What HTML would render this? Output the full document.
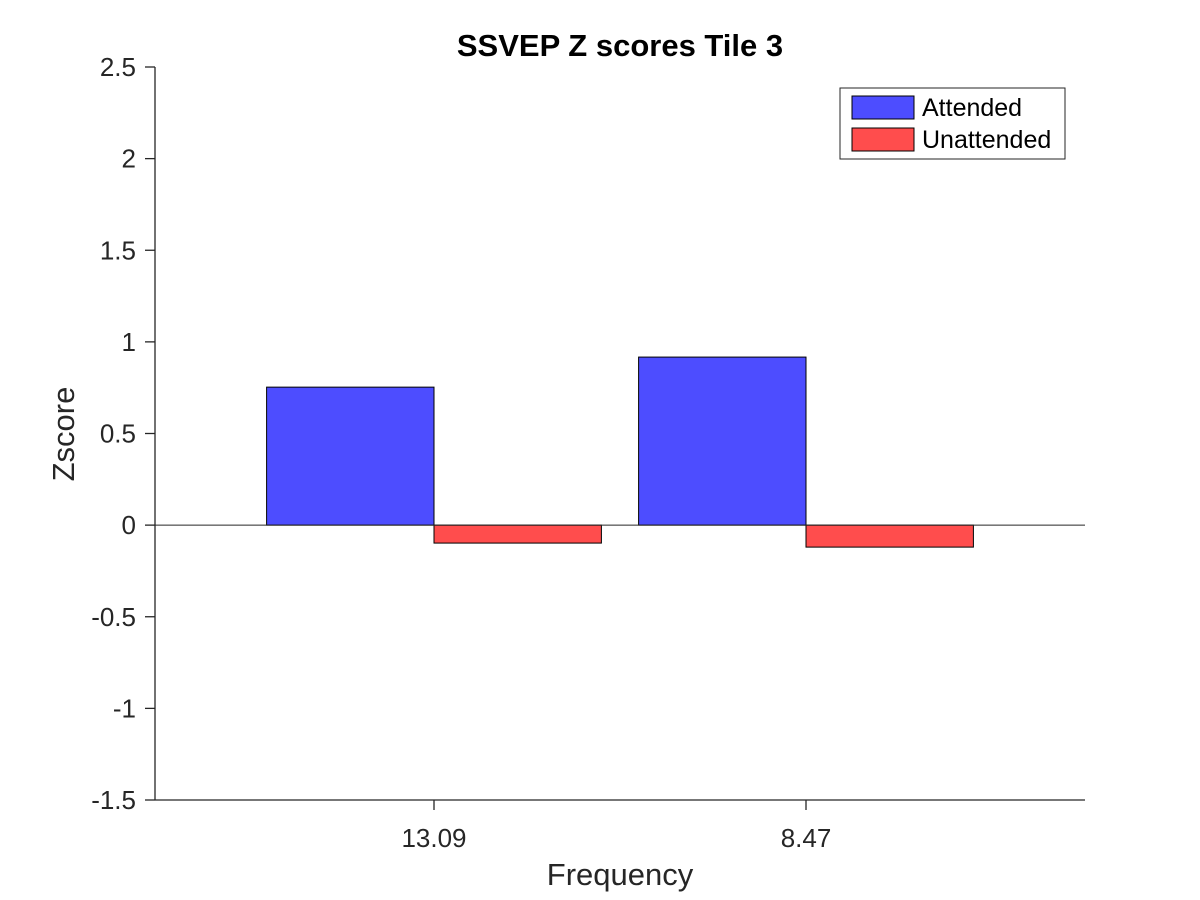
<!DOCTYPE html>
<html><head><meta charset="utf-8"><style>
body{margin:0;background:#fff;}
svg{display:block;font-family:"Liberation Sans",Arial,sans-serif;}
</style></head><body>
<svg id="chart" width="1200" height="900" viewBox="0 0 1200 900"></svg>
<script>
const categories = ["13.09", "8.47"];
const attended = [0.753, 0.917];
const unattended = [-0.098, -0.12];
const yTicks = [-1.5, -1, -0.5, 0, 0.5, 1, 1.5, 2, 2.5];
const yTickLabels = ["-1.5", "-1", "-0.5", "0", "0.5", "1", "1.5", "2", "2.5"];

const L = 155, R = 1085, T = 67, B = 800;
const yMin = -1.5, yMax = 2.5, xMin = 0.25, xMax = 2.75;
const ys = v => B - (v - yMin) / (yMax - yMin) * (B - T);
const xs = v => L + (v - xMin) / (xMax - xMin) * (R - L);
const NS = "http://www.w3.org/2000/svg";
const svg = document.getElementById('chart');
function mk(tag, attrs, parent) {
  const e = document.createElementNS(NS, tag);
  for (const k in attrs) e.setAttribute(k, attrs[k]);
  (parent || svg).appendChild(e);
  return e;
}

let e = mk('line', {x1: L, y1: T, x2: L, y2: B, stroke: '#262626', 'stroke-width': 1.3});


e = mk('line', {x1: L, y1: B, x2: R, y2: B, stroke: '#262626', 'stroke-width': 1.3});



yTicks.forEach((t, i) => {
  const y = ys(t);
  const tk = mk('line', {x1: L - 10, y1: y, x2: L, y2: y, stroke: '#262626', 'stroke-width': 1.3});
  
  
  const tx = mk('text', {x: L - 19, y: y + 9, 'text-anchor': 'end', 'font-size': 26, fill: '#262626'});
  tx.textContent = yTickLabels[i];
  
  
});

const bw = 0.45;
categories.forEach((c, i) => {
  const cx = i + 1;
  const tk = mk('line', {x1: xs(cx), y1: B, x2: xs(cx), y2: B + 10, stroke: '#262626', 'stroke-width': 1.3});
  
  
  const tx = mk('text', {x: xs(cx), y: B + 47, 'text-anchor': 'middle', 'font-size': 26, fill: '#262626'});
  tx.textContent = c;
  
  

  const a = attended[i];
  const b1 = mk('rect', {x: xs(cx - bw), y: Math.min(ys(a), ys(0)), width: xs(cx) - xs(cx - bw), height: Math.abs(ys(a) - ys(0)), fill: '#4d4dff', stroke: '#000', 'stroke-width': 1});
  
  
  const u = unattended[i];
  const b2 = mk('rect', {x: xs(cx), y: Math.min(ys(u), ys(0)), width: xs(cx + bw) - xs(cx), height: Math.abs(ys(u) - ys(0)), fill: '#ff4d4d', stroke: '#000', 'stroke-width': 1});
  
  
});

e = mk('line', {x1: L, y1: ys(0), x2: R, y2: ys(0), stroke: '#262626', 'stroke-width': 1});



e = mk('text', {x: 620, y: 56, 'text-anchor': 'middle', 'font-size': 31, 'font-weight': 'bold', fill: '#000'});
e.textContent = 'SSVEP Z scores Tile 3';


e = mk('text', {x: 620, y: 885, 'text-anchor': 'middle', 'font-size': 31, fill: '#262626'});
e.textContent = 'Frequency';


e = mk('text', {x: 0, y: 0, 'text-anchor': 'middle', 'font-size': 31, fill: '#262626', transform: 'translate(74,434) rotate(-90)'});
e.textContent = 'Zscore';



const lg = mk('g', {});


mk('rect', {x: 840, y: 88, width: 225, height: 71, fill: '#fff', stroke: '#262626'}, lg);
const entries = [['Attended', '#4d4dff'], ['Unattended', '#ff4d4d']];
entries.forEach((en, i) => {
  const g = mk('g', {}, lg);
  
  
  mk('rect', {x: 852, y: 96 + i * 32, width: 62, height: 23, fill: en[1], stroke: '#000'}, g);
  const t = mk('text', {x: 922, y: 116 + i * 32, 'font-size': 25, fill: '#000'}, g);
  t.textContent = en[0];
});
</script>
</body></html>
